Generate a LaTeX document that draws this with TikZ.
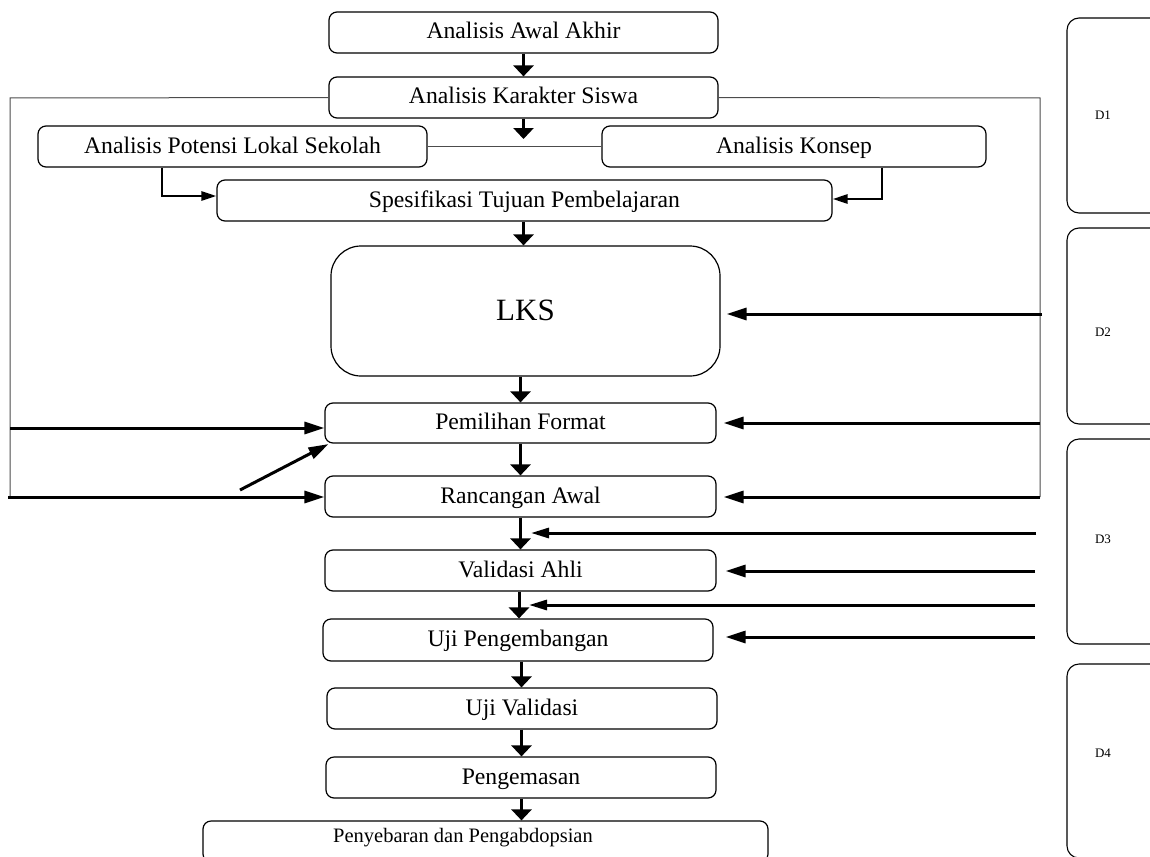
\documentclass[tikz,border=0pt]{standalone}
\usepackage{fontspec}
\setmainfont{Liberation Serif}
\usetikzlibrary{arrows.meta}
\begin{document}
\begin{tikzpicture}[x=1pt,y=-1pt,
 box/.style={draw=black,line width=1.2pt,rounded corners=8pt,inner sep=0pt,text height=16pt,text depth=3pt,font=\fontsize{23.7}{28}\selectfont},
 dbox/.style={draw=black,line width=1.1pt,rounded corners=12pt,inner sep=0pt,minimum width=110pt},
 dlabel/.style={font=\fontsize{13}{15}\selectfont,inner sep=0pt},
 thinline/.style={draw=black!70,line width=1pt},
 down/.style={line width=3pt,-{Triangle[length=11pt,width=20pt]}},
 harrow/.style={line width=3pt,-{Triangle[length=20pt,width=12pt]}},
 earrow/.style={line width=2.5pt,-{Triangle[length=15pt,width=9pt]}},
]
\useasboundingbox (0,0) rectangle (1150,856);
\clip (0,0) rectangle (1150,856);

% main boxes
\node[box,minimum width=389pt,minimum height=41pt] (a1) at (523.5,32.5) {Analisis Awal Akhir};
\node[box,minimum width=389pt,minimum height=41pt] (a2) at (523.5,97.5) {Analisis Karakter Siswa};
\node[box,minimum width=389pt,minimum height=41pt] (a3) at (232.5,146.5) {Analisis Potensi Lokal Sekolah};
\node[box,minimum width=384pt,minimum height=41pt] (a4) at (794,146.5) {Analisis Konsep};
\node[box,minimum width=615pt,minimum height=41pt] (a5) at (524.5,200.5) {Spesifikasi Tujuan Pembelajaran};
\node[box,rounded corners=30pt,minimum width=389pt,minimum height=130pt,text height=21pt,text depth=2pt,font=\fontsize{31}{36}\selectfont] (lks) at (525.5,311) {LKS};
\node[box,minimum width=391pt,minimum height=40pt] (pf) at (520.5,423) {Pemilihan Format};
\node[box,minimum width=391pt,minimum height=41pt] (ra) at (520.5,496.5) {Rancangan Awal};
\node[box,minimum width=391pt,minimum height=41pt] (va) at (520.5,570.5) {Validasi Ahli};
\node[box,minimum width=390pt,minimum height=42pt] (up) at (518,640) {Uji Pengembangan};
\node[box,minimum width=390pt,minimum height=41pt] (uv) at (522,708.5) {Uji Validasi};
\node[box,minimum width=390pt,minimum height=41pt] (pg) at (521,777.5) {Pengemasan};
\node[box,minimum width=565pt,minimum height=41pt] (pp) at (485.5,841.5) {};
\node[inner sep=0pt,font=\fontsize{20.5}{24}\selectfont] (ppt) at (463,838) {Penyebaran dan Pengabdopsian};

% D boxes
\node[dbox,minimum height=195pt] (d1) at (1122,115.5) {};
\node[dbox,minimum height=196pt] (d2) at (1122,326) {};
\node[dbox,minimum height=205pt] (d3) at (1122,541.5) {};
\node[dbox,minimum height=194pt] (d4) at (1122,761) {};
\node[dlabel] (l1) at (1103,115) {D1};
\node[dlabel] (l2) at (1103,332) {D2};
\node[dlabel] (l3) at (1103,539) {D3};
\node[dlabel] (l4) at (1103,753) {D4};

% down arrows
\coordinate (stub) at (523.5,139);
\draw[down] (a1.south) -- (a2.north);
\draw[down] (a2.south) -- (stub);
\draw[down] (a5.south -| 523.5,0) -- (lks.north -| 523.5,0);
\draw[down] (lks.south -| 520.5,0) -- (pf.north);
\draw[down] (pf.south) -- (ra.north);
\draw[down] (ra.south) -- (va.north);
\draw[down] (va.south -| 519,0) -- (up.north -| 519,0);
\draw[down] (up.south -| 521.5,0) -- (uv.north -| 521.5,0);
\draw[down] (uv.south -| 521.5,0) -- (pg.north -| 521.5,0);
\draw[down] (pg.south -| 521.5,0) -- (pp.north -| 521.5,0);

% line between Potensi and Konsep
\draw[thinline] (a3.east) -- (a4.west);

% elbow arrows into Spesifikasi
\coordinate (e1) at (162,196);
\coordinate (e2) at (882,199);
\draw[earrow] (a3.south -| e1) |- (a5.west |- e1);
\draw[earrow] (a4.south -| e2) |- (a5.east |- e2);

% left frame
\coordinate (ltop) at (10,98);
\coordinate (lbot) at (10,497);
\draw[thinline] (a2.west) -- (ltop) -- (lbot);
\coordinate (lpf) at (10,428);
\coordinate (lra) at (8,497);
\draw[harrow] (lpf) -- (lpf -| pf.west);
\draw[harrow] (lra) -- (lra -| ra.west);
\coordinate (dg) at (240,490);
\draw[harrow,shorten >=1pt] (dg) -- ([xshift=5pt]pf.south west);

% right frame
\coordinate (rtop) at (1040,98);
\coordinate (rlks) at (1042,314);
\coordinate (rpf) at (1040,423);
\coordinate (rra) at (1040,497);
\draw[thinline] (a2.east) -- (rtop) -- (rra);
\draw[harrow,shorten >=6pt] (rlks) -- (rlks -| lks.east);
\draw[harrow,shorten >=7pt] (rpf) -- (rpf -| pf.east);
\draw[harrow,shorten >=7pt] (rra) -- (rra -| ra.east);
\coordinate (r4) at (1036,533);
\coordinate (t4) at (531,533);
\draw[harrow,-{Triangle[length=18pt,width=10pt]}] (r4) -- (t4);
\coordinate (r5) at (1035,571);
\draw[harrow,shorten >=9pt] (r5) -- (r5 -| va.east);
\coordinate (r6) at (1035,605);
\coordinate (t6) at (529,605);
\draw[harrow,-{Triangle[length=18pt,width=10pt]}] (r6) -- (t6);
\coordinate (r7) at (1035,637);
\draw[harrow,shorten >=12pt] (r7) -- (r7 -| up.east);
\end{tikzpicture}
\end{document}
